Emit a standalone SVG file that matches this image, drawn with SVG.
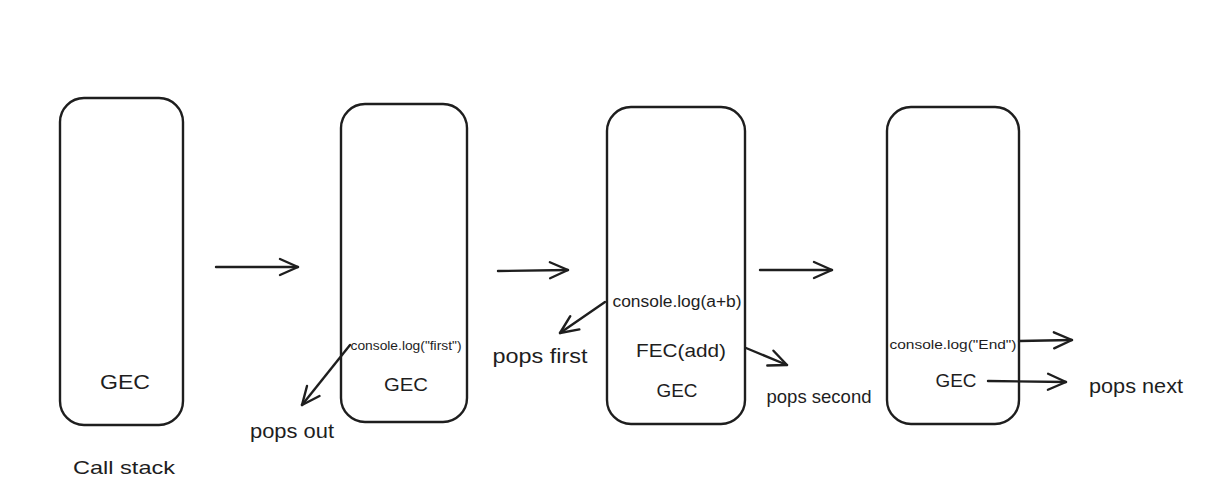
<svg xmlns="http://www.w3.org/2000/svg" width="1216" height="501" viewBox="0 0 1216 501">
<defs>
<marker id="ah" viewBox="0 0 24 24" refX="21" refY="12" markerWidth="24" markerHeight="24" markerUnits="userSpaceOnUse" orient="auto">
<path d="M3,4 L21,12 L3,20" fill="none" stroke="#1e1e1e" stroke-width="2.4" stroke-linecap="round" stroke-linejoin="round"/>
</marker>
</defs>
<style>
.box{fill:#fff;stroke:#1e1e1e;stroke-width:2.4}
.t{font-family:"Liberation Sans",Arial,sans-serif;fill:#1e1e1e;text-anchor:middle}
.c{stroke:#1e1e1e;stroke-width:2.4;fill:none;stroke-linecap:round;marker-end:url(#ah)}
</style>
<rect width="1216" height="501" fill="#fff"/>
<g id="stack1">
<rect class="box" x="60" y="98" width="123" height="327" rx="24"/>
<text class="t" x="125" y="389" font-size="21" textLength="50" lengthAdjust="spacingAndGlyphs">GEC</text>
</g>
<g id="stack2">
<rect class="box" x="341" y="104" width="126" height="318" rx="24"/>
<text class="t" x="406" y="350" font-size="13" textLength="111" lengthAdjust="spacingAndGlyphs">console.log("first")</text>
<text class="t" x="406" y="391" font-size="19" textLength="44" lengthAdjust="spacingAndGlyphs">GEC</text>
</g>
<g id="stack3">
<rect class="box" x="607" y="107" width="138" height="317" rx="24"/>
<text class="t" x="677" y="307" font-size="16" textLength="129" lengthAdjust="spacingAndGlyphs">console.log(a+b)</text>
<text class="t" x="681" y="357" font-size="19" textLength="90" lengthAdjust="spacingAndGlyphs">FEC(add)</text>
<text class="t" x="677" y="397" font-size="18" textLength="41" lengthAdjust="spacingAndGlyphs">GEC</text>
</g>
<g id="stack4">
<rect class="box" x="887" y="107" width="132" height="317" rx="24"/>
<text class="t" x="953" y="349" font-size="13" textLength="127" lengthAdjust="spacingAndGlyphs">console.log("End")</text>
<text class="t" x="956" y="387" font-size="18" textLength="41" lengthAdjust="spacingAndGlyphs">GEC</text>
</g>
<g id="labels">
<text class="t" x="124" y="474" font-size="19" textLength="102" lengthAdjust="spacingAndGlyphs">Call stack</text>
<text class="t" x="292" y="438" font-size="20" textLength="84" lengthAdjust="spacingAndGlyphs">pops out</text>
<text class="t" x="540" y="363" font-size="20" textLength="95" lengthAdjust="spacingAndGlyphs">pops first</text>
<text class="t" x="819" y="403" font-size="19" textLength="105" lengthAdjust="spacingAndGlyphs">pops second</text>
<text class="t" x="1136" y="393" font-size="20" textLength="94" lengthAdjust="spacingAndGlyphs">pops next</text>
</g>
<g id="connectors">
<line class="c" x1="216" y1="267" x2="298" y2="267"/>
<line class="c" x1="498" y1="271" x2="568" y2="270"/>
<line class="c" x1="760" y1="270" x2="832" y2="270"/>
<line class="c" x1="350" y1="345" x2="302" y2="405"/>
<line class="c" x1="605" y1="302" x2="560" y2="333"/>
<line class="c" x1="746" y1="348" x2="787" y2="365"/>
<line class="c" x1="1019" y1="341" x2="1072" y2="340"/>
<line class="c" x1="988" y1="381" x2="1066" y2="382"/>
</g>
</svg>
